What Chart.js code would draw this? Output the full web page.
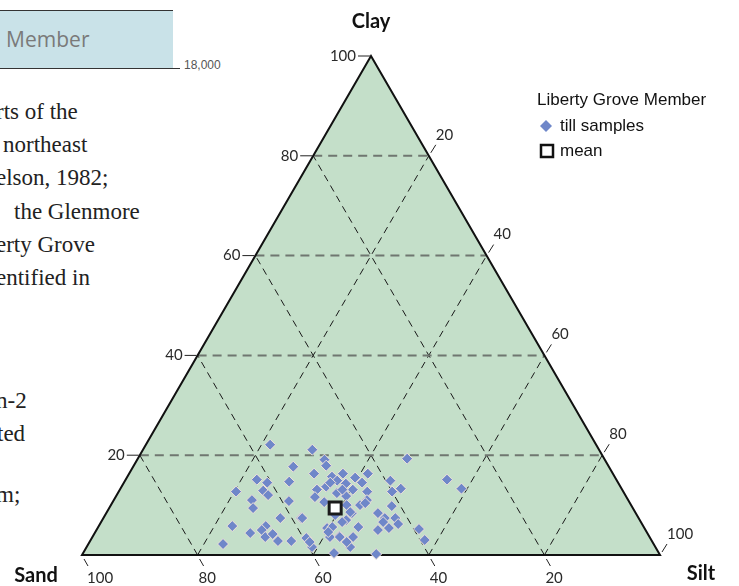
<!DOCTYPE html>
<html>
<head>
<meta charset="utf-8">
<script src="https://cdn.jsdelivr.net/npm/chart.js@4"></script>
<style>
  html, body { margin: 0; padding: 0; background: #fff; }
  #page { position: relative; width: 739px; height: 586px; overflow: hidden; }
  .box { position: absolute; left: 0; top: 10px; width: 173px; height: 58px; background: #c9e2e8; border-top: 1px solid #333; }
  .rule { position: absolute; left: 0; top: 68px; width: 180px; height: 1px; background: #333; }
  .boxtxt { position: absolute; left: -11px; top: 25px; font: 21px "Open Sans", sans-serif; color: #7a7a7a; white-space: nowrap; }
  .num { position: absolute; left: 184px; top: 58px; font: 12px "Liberation Sans", sans-serif; color: #555; }
  .ser { position: absolute; font: 23px "Liberation Serif", serif; color: #222; white-space: nowrap; line-height: 22px; }
  canvas { position: absolute; left: 0; top: 0; }
</style>
</head>
<body>
<div id="page">
  <div class="box"></div>
  <div class="rule"></div>
  <div class="boxtxt">a Member</div>
  <div class="num">18,000</div>
  <div class="ser" style="left:-4px;top:101px">rts of the</div>
  <div class="ser" style="left:3px;top:134px">northeast</div>
  <div class="ser" style="left:-4px;top:167px">elson, 1982;</div>
  <div class="ser" style="left:14px;top:201px">the Glenmore</div>
  <div class="ser" style="left:-4px;top:234px">erty Grove</div>
  <div class="ser" style="left:-4px;top:267px">entified in</div>
  <div class="ser" style="left:-4px;top:390px">n-2</div>
  <div class="ser" style="left:-3px;top:423px">ted</div>
  <div class="ser" style="left:-4px;top:484px">m;</div>
  <canvas id="tern" width="739" height="586"></canvas>
</div>
<script>
// till samples, percent (sand + silt + clay = 100)
var sand = [56.4,49.6,48.5,48.8,34.1,54.6,51.7,48.9,46.7,42.4,62.2,60.7,56.8,48.4,39.2,29.3,27.7,67.0,62.2,61.8,
            52.8,50.9,49.7,47.2,46.6,44.3,44.3,38.2,40.0,65.1,65.7,58.8,53.9,52.8,48.4,46.9,45.2,49.1,44.6,41.5,
            43.9,42.1,42.2,44.2,62.0,58.4,71.1,65.3,66.4,68.7,66.5,64.9,64.7,62.4,59.5,74.5,59.4,54.9,53.6,50.8,
            49.4,51.3,52.8,56.2,49.0,46.3,39.1,39.2,53.9,55.3,49.2,52.2,51.7,49.3,45.8,44.6,53.6,55.1,52.9,59.3,
            58.2,48.4,49.8,45.0];
var silt = [21.5,29.3,32.4,33.3,46.6,27.7,32.0,35.4,37.0,41.3,22.7,24.8,28.5,36.7,45.9,55.6,59.0,20.3,24.9,26.2,
            34.1,35.4,37.9,38.5,40.3,41.2,43.0,48.5,47.3,23.9,24.9,30.4,34.5,36.6,39.8,43.1,43.8,42.5,47.0,48.7,
            48.7,50.5,51.6,50.4,30.6,34.2,23.1,28.9,28.6,26.9,29.9,30.9,32.5,34.8,37.1,23.3,39.0,39.7,42.6,42.2,
            45.0,45.1,45.6,43.4,50.8,48.7,55.7,57.8,40.5,41.1,40.8,39.8,41.7,42.1,43.8,48.8,42.8,40.3,44.5,38.1,
            34.4,38.5,35.7,39.5];
var clay = [22.1,21.1,19.1,17.9,19.3,17.7,16.3,15.7,16.3,16.3,15.1,14.5,14.7,14.9,14.9,15.1,13.3,12.7,12.9,12.0,
            13.1,13.7,12.4,14.3,13.1,14.5,12.7,13.3,12.7,11.0,9.4,10.8,11.6,10.6,11.8,10.0,11.0,8.4,8.4,9.8,
            7.4,7.4,6.2,5.4,7.4,7.4,5.8,5.8,5.0,4.4,3.6,4.2,2.8,2.8,3.4,2.2,1.6,5.4,3.8,7.0,
            5.6,3.6,1.6,0.4,0.2,5.0,5.2,3.0,5.6,3.6,10.0,8.0,6.6,8.6,10.4,6.6,3.6,4.6,2.6,2.6,
            7.4,13.1,14.5,15.5];
var meanSand = [51.5], meanSilt = [39.1], meanClay = [9.4];
var gridSteps = [20, 40, 60, 80];
var tickSteps = [20, 40, 60, 80, 100];

// ternary -> cartesian (x along Sand-Silt base, y = clay)
function toXY(si, cl) {
  return si.map(function (v, i) { return { x: v + cl[i] / 2, y: cl[i] }; });
}

var frame = {
  id: "ternFrame",
  beforeDatasetsDraw: function (chart) {
    var ctx = chart.ctx, xs = chart.scales.x, ys = chart.scales.y;
    var P = function (si, cl) { return [xs.getPixelForValue(si + cl / 2), ys.getPixelForValue(cl)]; };
    var line = function (a, b) { ctx.beginPath(); ctx.moveTo(a[0], a[1]); ctx.lineTo(b[0], b[1]); ctx.stroke(); };
    var A = P(0, 0), B = P(100, 0), C = P(0, 100);
    ctx.save();
    ctx.fillStyle = "#c4dfc9";
    ctx.beginPath(); ctx.moveTo(A[0], A[1]); ctx.lineTo(B[0], B[1]); ctx.lineTo(C[0], C[1]); ctx.closePath(); ctx.fill();
    // sand and silt lines
    ctx.strokeStyle = "#1a1a1a"; ctx.lineWidth = 1; ctx.setLineDash([7, 5]);
    gridSteps.forEach(function (v) {
      line(P(100 - v, 0), P(0, 100 - v));
      line(P(v, 0), P(v, 100 - v));
    });
    // clay lines
    ctx.strokeStyle = "#6f7770"; ctx.lineWidth = 2; ctx.setLineDash([9, 6]);
    gridSteps.forEach(function (v) { line(P(0, v), P(100 - v, v)); });
    ctx.setLineDash([]);
    ctx.strokeStyle = "#111"; ctx.lineWidth = 2;
    ctx.beginPath(); ctx.moveTo(A[0], A[1]); ctx.lineTo(B[0], B[1]); ctx.lineTo(C[0], C[1]); ctx.closePath(); ctx.stroke();
    ctx.restore();
  },
  afterDraw: function (chart) {
    var ctx = chart.ctx, xs = chart.scales.x, ys = chart.scales.y;
    var P = function (si, cl) { return [xs.getPixelForValue(si + cl / 2), ys.getPixelForValue(cl)]; };
    ctx.save();
    ctx.strokeStyle = "#222"; ctx.lineWidth = 1; ctx.fillStyle = "#2a2a2a";
    ctx.font = "15px Lato, sans-serif";
    tickSteps.forEach(function (v) {
      // clay, left edge
      var p = P(0, v);
      ctx.beginPath(); ctx.moveTo(p[0] - 1, p[1]); ctx.lineTo(p[0] - 13, p[1]); ctx.stroke();
      ctx.textAlign = "right"; ctx.textBaseline = "middle";
      ctx.fillText(String(v), p[0] - 15, p[1]);
      // sand, base
      p = P(100 - v, 0);
      ctx.beginPath(); ctx.moveTo(p[0] + 2, p[1] + 4); ctx.lineTo(p[0] + 6, p[1] + 11); ctx.stroke();
      ctx.textAlign = "left";
      ctx.fillText(String(v), p[0] + (v == 100 ? 5 : 1), p[1] + 23);
      // silt, right edge
      p = P(v, 100 - v);
      ctx.beginPath(); ctx.moveTo(p[0] + 2, p[1] - 3); ctx.lineTo(p[0] + 7, p[1] - 11); ctx.stroke();
      ctx.fillText(String(v), p[0] + 7, p[1] - 21);
    });
    ctx.font = "bold 20px Lato, sans-serif";
    ctx.fillStyle = "#111"; ctx.textAlign = "center";
    var c = P(0, 100), a = P(0, 0), b = P(100, 0);
    ctx.fillText("Clay", c[0], c[1] - 34);
    ctx.fillText("Sand", a[0] - 46, a[1] + 21);
    ctx.fillText("Silt", b[0] + 41, b[1] + 19);
    // legend
    ctx.font = "17px 'Liberation Sans', Arial, sans-serif";
    ctx.textAlign = "left"; ctx.fillStyle = "#111";
    ctx.fillText("Liberty Grove Member", 537, 100);
    ctx.fillText("till samples", 560, 126);
    ctx.fillText("mean", 560, 151);
    ctx.fillStyle = "#6f87c9";
    ctx.beginPath(); ctx.moveTo(546, 120); ctx.lineTo(552, 126); ctx.lineTo(546, 132); ctx.lineTo(540, 126); ctx.closePath(); ctx.fill();
    ctx.strokeStyle = "#111"; ctx.lineWidth = 2.5;
    ctx.strokeRect(541, 145, 12, 12);
    ctx.restore();
  }
};

new Chart("tern", {
  type: "scatter",
  data: {
    datasets: [{
      label: "till samples",
      data: toXY(silt, clay),
      pointStyle: "rectRot",
      pointRadius: 5.5,
      backgroundColor: "#6f87c9",
      borderColor: "#efe2da",
      borderWidth: 1,
      clip: false,
      order: 1
    }, {
      label: "mean",
      data: toXY(meanSilt, meanClay),
      pointStyle: "rect",
      pointRadius: 8.5,
      backgroundColor: "#ffffff",
      borderColor: "#1a1a1a",
      borderWidth: 3,
      clip: false,
      order: 0
    }]
  },
  options: {
    responsive: false,
    animation: false,
    layout: { padding: { left: 82, right: 79, top: 56, bottom: 31 } },
    scales: {
      x: { type: "linear", min: 0, max: 100, display: false },
      y: { type: "linear", min: 0, max: 100, display: false }
    },
    plugins: { legend: { display: false }, tooltip: { enabled: false } }
  },
  plugins: [frame]
});
</script>
</body>
</html>
